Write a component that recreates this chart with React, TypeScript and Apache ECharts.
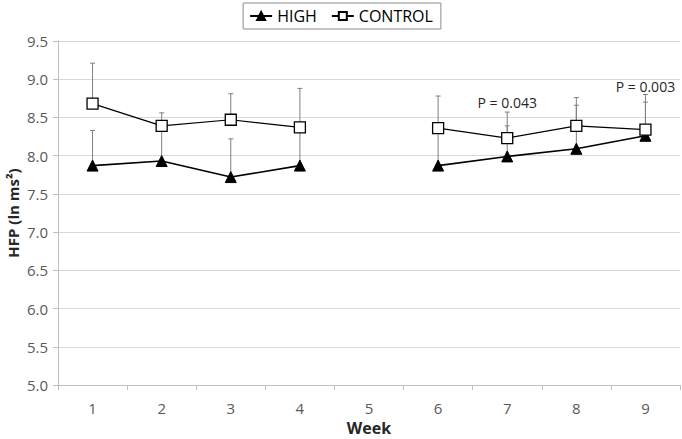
import React, { useEffect, useRef } from "react";
import * as echarts from "echarts";

const weeks = ["1", "2", "3", "4", "5", "6", "7", "8", "9"];
const highMean = [7.87, 7.93, 7.72, 7.87, null, 7.87, 7.99, 8.09, 8.26];
const highUpper = [8.33, 8.38, 8.22, 8.40, null, 8.36, 8.39, 8.66, 8.70];
const controlMean = [8.68, 8.39, 8.47, 8.37, null, 8.36, 8.23, 8.39, 8.34];
const controlUpper = [9.21, 8.56, 8.81, 8.88, null, 8.78, 8.57, 8.76, 8.80];
const yTicks = { min: 5.0, max: 9.5, interval: 0.5 };
const annotations = [
  { week: "7", y: 8.69, text: "P = 0.043" },
  { week: "9", y: 8.9, text: "P = 0.003" },
];

const FONT = "'Open Sans', 'Noto Sans', sans-serif";

function errorData(mean: (number | null)[], upper: (number | null)[]) {
  const out: number[][] = [];
  mean.forEach((m, i) => {
    const u = upper[i];
    if (m != null && u != null) out.push([i, m, u]);
  });
  return out;
}

function errorRender(params: any, api: any) {
  const base = api.coord([api.value(0), api.value(1)]);
  const top = api.coord([api.value(0), api.value(2)]);
  const style = { stroke: "#7f7f7f", lineWidth: 1 };
  return {
    type: "group",
    children: [
      { type: "line", shape: { x1: base[0], y1: base[1], x2: top[0], y2: top[1] }, style },
      { type: "line", shape: { x1: top[0] - 2.5, y1: top[1], x2: top[0] + 2.5, y2: top[1] }, style },
    ],
  };
}

export default function App() {
  const ref = useRef<HTMLDivElement>(null);
  useEffect(() => {
    if (!ref.current) return;
    const chart = echarts.init(ref.current, undefined, { renderer: "svg" });
    chart.setOption({
      animation: false,
      textStyle: { fontFamily: FONT },
      legend: {
        top: 3,
        left: "center",
        data: ["HIGH", "CONTROL"],
        borderColor: "#8c8c8c",
        borderWidth: 1,
        borderRadius: 0,
        padding: [5, 8, 5, 6],
        itemGap: 14,
        itemWidth: 22,
        itemHeight: 10,
        textStyle: { fontFamily: FONT, fontSize: 16, color: "#000" },
      },
      grid: { left: 58, right: 2, top: 41, bottom: 54, containLabel: false, outerBoundsMode: "none" },
      xAxis: {
        type: "category",
        data: weeks,
        boundaryGap: true,
        name: "Week",
        nameLocation: "middle",
        nameGap: 35,
        nameMoveOverlap: false,
        nameTextStyle: { fontFamily: FONT, fontSize: 16, fontWeight: "bold", color: "#262626" },
        axisLine: { lineStyle: { color: "#bfbfbf" } },
        axisTick: { show: true, length: 5, lineStyle: { color: "#bfbfbf" } },
        axisLabel: { fontFamily: FONT, fontSize: 15, color: "#595959", margin: 15 },
        splitLine: { show: false },
      },
      yAxis: {
        type: "value",
        min: yTicks.min,
        max: yTicks.max,
        interval: yTicks.interval,
        name: "HFP (ln ms²)",
        nameLocation: "middle",
        nameGap: 38,
        nameMoveOverlap: false,
        nameTextStyle: { fontFamily: FONT, fontSize: 15, fontWeight: "bold", color: "#262626" },
        axisLine: { show: true, lineStyle: { color: "#bfbfbf" } },
        axisTick: { show: true, length: 5, lineStyle: { color: "#bfbfbf" } },
        axisLabel: {
          fontFamily: FONT,
          fontSize: 15,
          color: "#595959",
          margin: 10,
          formatter: (v: number) => v.toFixed(1),
        },
        splitLine: { show: true, lineStyle: { color: "#d9d9d9", width: 1 } },
      },
      series: [
        {
          type: "custom",
          name: "errHigh",
          renderItem: errorRender,
          data: errorData(highMean, highUpper),
          z: 1,
          silent: true,
        },
        {
          type: "custom",
          name: "errControl",
          renderItem: errorRender,
          data: errorData(controlMean, controlUpper),
          z: 1,
          silent: true,
        },
        {
          type: "line",
          name: "HIGH",
          data: highMean,
          z: 3,
          symbol: "triangle",
          symbolSize: 11,
          showAllSymbol: true,
          lineStyle: { color: "#000", width: 1.6 },
          itemStyle: { color: "#000", borderColor: "#000", borderWidth: 1 },
        },
        {
          type: "line",
          name: "CONTROL",
          data: controlMean,
          z: 4,
          symbol: "rect",
          symbolSize: 11,
          showAllSymbol: true,
          lineStyle: { color: "#000", width: 1.2 },
          itemStyle: { color: "#fff", borderColor: "#000", borderWidth: 1.3 },
          markPoint: {
            symbol: "circle",
            symbolSize: 0,
            silent: true,
            data: annotations.map((a) => ({
              coord: [a.week, a.y],
              value: a.text,
              label: {
                show: true,
                position: "inside",
                formatter: a.text,
                fontFamily: FONT,
                fontSize: 14,
                color: "#262626",
              },
            })),
          },
        },
      ],
    });
    return () => chart.dispose();
  }, []);
  return <div ref={ref} style={{ width: 682, height: 439, position: "absolute", left: 0, top: 0 }} />;
}
